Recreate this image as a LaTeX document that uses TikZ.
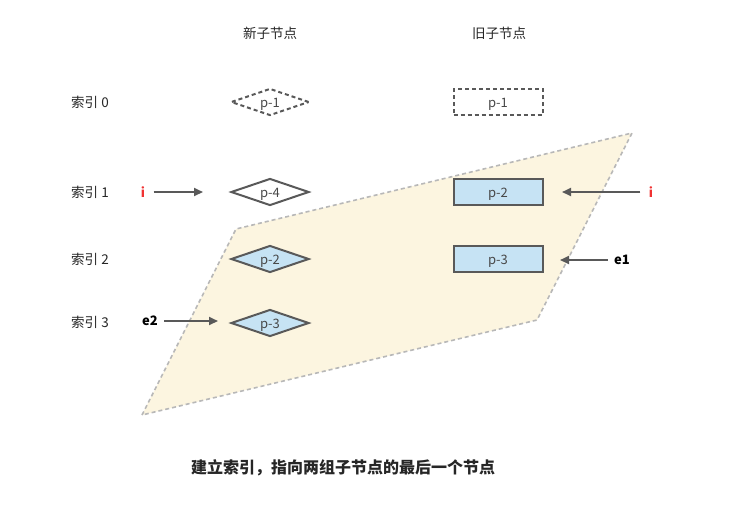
\documentclass[tikz,border=0pt]{standalone}
\usepackage{fontspec}
\setmainfont{Noto Sans CJK SC}
\usetikzlibrary{shapes.geometric,arrows.meta}
\definecolor{edge}{HTML}{595959}
\definecolor{bluefill}{HTML}{C6E3F4}
\definecolor{bandfill}{HTML}{FCF5E0}
\definecolor{bandline}{HTML}{B8B8B8}
\definecolor{redtxt}{HTML}{F03232}
\tikzset{
  dia/.style={diamond, aspect=2.9, draw=edge, line width=2pt, inner sep=0pt, minimum width=78pt, minimum height=27pt, font=\fontsize{13}{15}\selectfont, text=edge!80!black, text height=13pt, text depth=2.7pt},
  box/.style={rectangle, draw=edge, line width=2pt, inner sep=0pt, minimum width=89pt, minimum height=26pt, font=\fontsize{13}{15}\selectfont, text=edge!80!black, text height=13pt, text depth=2.7pt},
  lab/.style={font=\fontsize{13.5}{16}\selectfont, text=black!85},
  arr/.style={-{Triangle[length=9pt,width=8pt]}, draw=edge, line width=2pt},
  ptr/.style={font=\bfseries\fontsize{13}{15}\selectfont},
}
\begin{document}
\begin{tikzpicture}[x=1pt,y=-1pt]
\useasboundingbox[fill=white] (0,0) rectangle (746,507);
% band
\path[fill=bandfill, draw=bandline, line width=1.6pt, dash pattern=on 4pt off 3pt]
  (142,415) -- (236,229) -- (632,133) -- (537,320) -- cycle;
% headings
\node[lab] (hnew) at (270,33) {新子节点};
\node[lab] (hold) at (499,33) {旧子节点};
% index labels
\node[lab] (i0) at (90,102) {索引 0};
\node[lab] (i1) at (90,192) {索引 1};
\node[lab] (i2) at (90,259) {索引 2};
\node[lab] (i3) at (90,322) {索引 3};
% new children
\node[dia, fill=white, dash pattern=on 4pt off 3pt] (n1) at (270,102) {p-1};
\node[dia, fill=white] (n4) at (270,192) {p-4};
\node[dia, fill=bluefill] (n2) at (270,259) {p-2};
\node[dia, fill=bluefill] (n3) at (270,323) {p-3};
% old children
\node[box, fill=white, dash pattern=on 4pt off 3pt] (o1) at (498,102) {p-1};
\node[box, fill=bluefill] (o2) at (498,192) {p-2};
\node[box, fill=bluefill] (o3) at (498,259) {p-3};
% pointers
\node[ptr, text=redtxt] (pil) at (143,192) {i};
\coordinate (pila) at (203,192);
\draw[arr] ([xshift=5pt]pil.east) -- (pila);
\node[ptr, text=redtxt] (pir) at (651,192) {i};
\coordinate (pira) at (562,192);
\draw[arr] ([xshift=-5pt]pir.west) -- (pira);
\node[ptr] (pe1) at (622,260) {e1};
\coordinate (pe1a) at (560,260);
\draw[arr] ([xshift=-3pt]pe1.west) -- (pe1a);
\node[ptr] (pe2) at (150,321) {e2};
\coordinate (pe2a) at (218,321);
\draw[arr] ([xshift=3pt]pe2.east) -- (pe2a);
% caption
\node[font=\bfseries\fontsize{16}{19}\selectfont, text=black!85] (cap) at (343,468) {建立索引，指向两组子节点的最后一个节点};
\end{tikzpicture}
\end{document}
